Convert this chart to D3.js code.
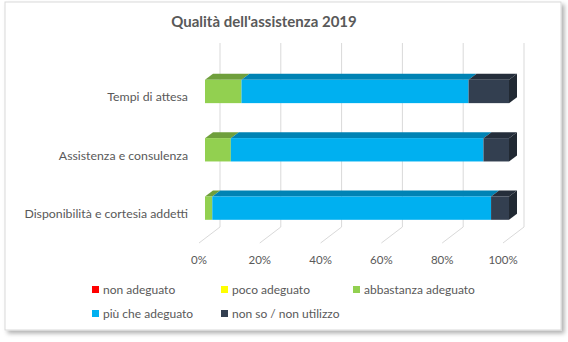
<!DOCTYPE html>
<html>
<head>
<meta charset="utf-8">
<script src="https://cdn.jsdelivr.net/npm/d3@7"></script>
<style>
  body { margin: 0; background: #fff; }
  text { font-family: Lato, "Open Sans", sans-serif; fill: #595959; }
</style>
</head>
<body>
<script>
// data
var categories = ['Tempi di attesa', 'Assistenza e consulenza', 'Disponibilità e cortesia addetti']
var seriesNames = ['non adeguato', 'poco adeguato', 'abbastanza adeguato', 'più che adeguato', 'non so / non utilizzo']
var nonAdeguato = [0, 0, 0]
var pocoAdeguato = [0, 0, 0]
var abbastanzaAdeguato = [12, 8.5, 2.4]
var piuCheAdeguato = [74.7, 83.1, 91.7]
var nonSo = [13.3, 8.4, 5.9]
var ticks = [0, 20, 40, 60, 80, 100]

var values = [nonAdeguato, pocoAdeguato, abbastanzaAdeguato, piuCheAdeguato, nonSo]
var colors = ['#FF0000', '#FFFF00', '#92D050', '#00B0F0', '#333F50']
var topColors = ['#b30000', '#b3b300', '#6f9f3c', '#0083b4', '#252e3b']
var sideColor = '#212933'

var width = 568, height = 342

var svg = d3.select('body').append('svg').attr('width', width).attr('height', height)

// shadow for the chart box
var defs = svg.append('defs')
var f = defs.append('filter').attr('id', 'shadow').attr('x', '-5%').attr('y', '-5%').attr('width', '110%').attr('height', '115%')
f.append('feDropShadow').attr('dx', 3).attr('dy', 3).attr('stdDeviation', 2).attr('flood-color', '#000').attr('flood-opacity', 0.3)

svg.append('rect').attr('x', 5).attr('y', 2).attr('width', 556).attr('height', 328)
    .attr('fill', '#fff').attr('stroke', '#d9d9d9').attr('filter', 'url(#shadow)')

svg.append('text').attr('x', 264).attr('y', 27).attr('text-anchor', 'middle')
    .style('font-size', '15px').style('font-weight', 'bold').text('Qualità dell\'assistenza 2019')

var x = d3.scaleLinear().domain([0, 100]).range([205, 509])   // bar front face
var y = d3.scaleBand().domain(categories).range([62.3, 237.3]).paddingInner(0.6).paddingOuter(0.3)

var depth = {dx: 8, dy: -6}        // bar depth
var floorFront = {dx: -6, y: 243}
var wallBack = {dx: 15, y: 227, top: 43}

// back wall gridlines + floor lines
var grid = svg.append('g')
grid.selectAll('.gv').data(ticks).enter().append('line')
    .attr('x1', d => x(d) + wallBack.dx).attr('x2', d => x(d) + wallBack.dx)
    .attr('y1', wallBack.top).attr('y2', wallBack.y)
    .attr('stroke', '#d9d9d9').attr('stroke-width', 1)
grid.selectAll('.gf').data(ticks).enter().append('line')
    .attr('x1', d => x(d) + wallBack.dx).attr('y1', wallBack.y)
    .attr('x2', d => x(d) + floorFront.dx).attr('y2', floorFront.y)
    .attr('stroke', '#d9d9d9').attr('stroke-width', 1)

// tick labels
svg.append('g').selectAll('text').data(ticks).enter().append('text')
    .attr('x', d => x(d) + floorFront.dx).attr('y', 264)
    .attr('text-anchor', 'middle').style('font-size', '11.5px')
    .text(d => d + '%')

// category labels
svg.append('g').selectAll('text').data(categories).enter().append('text')
    .attr('x', 188).attr('y', d => y(d) + y.bandwidth() / 2 + 10)
    .attr('text-anchor', 'end').style('font-size', '12.3px')
    .text(d => d)

// bars
var bw = y.bandwidth()
categories.forEach(function(c, i) {
    var g = svg.append('g')
    var segs = []
    var acc = 0
    values.forEach(function(s, k) {
        segs.push({k: k, x0: acc, x1: acc + s[i]})
        acc += s[i]
    })
    segs = segs.filter(s => s.x1 > s.x0)
    var yt = y(c)
    // top faces
    segs.forEach(function(s) {
        var a = x(s.x0), b = x(s.x1)
        g.append('path')
            .attr('d', `M${a},${yt} L${a + depth.dx},${yt + depth.dy} L${b + depth.dx},${yt + depth.dy} L${b},${yt} Z`)
            .attr('fill', topColors[s.k])
    })
    // front faces
    segs.forEach(function(s) {
        g.append('rect').attr('x', x(s.x0)).attr('y', yt)
            .attr('width', x(s.x1) - x(s.x0)).attr('height', bw)
            .attr('fill', colors[s.k])
    })
    // right face
    var last = segs[segs.length - 1]
    var r = x(last.x1)
    g.append('path')
        .attr('d', `M${r},${yt} L${r + depth.dx},${yt + depth.dy} L${r + depth.dx},${yt + bw + depth.dy} L${r},${yt + bw} Z`)
        .attr('fill', sideColor)
})

// legend
var legendPos = [[92, 290], [221, 290], [353, 290], [92, 314], [221, 314]]
var leg = svg.append('g').selectAll('g').data(seriesNames).enter().append('g')
    .attr('transform', (d, i) => `translate(${legendPos[i][0]}, ${legendPos[i][1]})`)
leg.append('rect').attr('x', 0).attr('y', -4).attr('width', 7).attr('height', 7)
    .attr('fill', (d, i) => colors[i])
leg.append('text').attr('x', 11).attr('y', 4).style('font-size', '12px').text(d => d)
</script>
</body>
</html>
